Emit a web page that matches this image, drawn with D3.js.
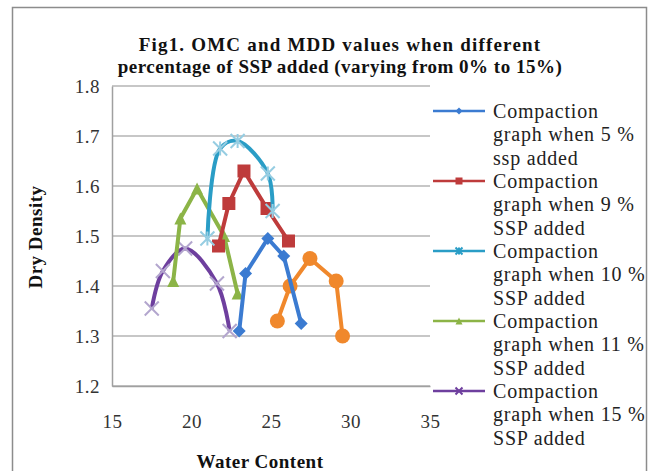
<!DOCTYPE html>
<html>
<head>
<meta charset="utf-8">
<script src="https://cdn.jsdelivr.net/npm/d3@7"></script>
<style>
  body { margin: 0; background: #fff; }
  text { font-family: "Liberation Serif", "Times New Roman", serif; }
</style>
</head>
<body>
<div id="chart"></div>
<script>
// water content (x) and dry density (y) for each series
var wc5 = [23.0, 23.4, 24.8, 25.8, 26.9];
var dd5 = [1.31, 1.425, 1.495, 1.46, 1.325];
var wc9 = [21.7, 22.35, 23.3, 24.75, 26.1];
var dd9 = [1.48, 1.565, 1.63, 1.555, 1.49];
var wc10 = [21.0, 21.8, 22.9, 24.8, 25.1];
var dd10 = [1.495, 1.675, 1.69, 1.625, 1.55];
var wc11 = [18.85, 19.3, 20.35, 22.05, 22.9];
var dd11 = [1.41, 1.535, 1.595, 1.5, 1.385];
var wc15 = [17.5, 18.2, 19.6, 21.6, 22.4];
var dd15 = [1.355, 1.43, 1.475, 1.405, 1.31];
var wcX = [25.4, 26.2, 27.45, 29.1, 29.5];
var ddX = [1.33, 1.4, 1.455, 1.41, 1.30];

var x_ticks = [15, 20, 25, 30, 35];
var y_ticks = [1.2, 1.3, 1.4, 1.5, 1.6, 1.7, 1.8];

var title_lines = ["Fig1. OMC and MDD values when different",
  "percentage of SSP added (varying from 0% to 15%)"];
var legend_lines = [
  ["Compaction", "graph when 5 %", "ssp added"],
  ["Compaction", "graph when 9 %", "SSP added"],
  ["Compaction", "graph when 10 %", "SSP added"],
  ["Compaction", "graph when 11 %", "SSP added"],
  ["Compaction", "graph when 15 %", "SSP added"]
];

function pts(xs, ys) {
  return xs.map(function(v, i) { return {x: v, y: ys[i]}; });
}

// drawing order: orange first, blue last (on top)
var series = [
  {name: "x", data: pts(wcX, ddX), color: "#F0882C", mark: "circle", smooth: false},
  {name: "15", data: pts(wc15, dd15), color: "#6E3F9E", mcolor: "#B3A6CE", mark: "cross", smooth: true},
  {name: "11", data: pts(wc11, dd11), color: "#8CB447", mark: "triangle", smooth: false},
  {name: "9", data: pts(wc9, dd9), color: "#BE3B3B", mark: "square", smooth: false},
  {name: "10", data: pts(wc10, dd10), color: "#2A9DC6", mcolor: "#96CDE2", mark: "star", smooth: true},
  {name: "5", data: pts(wc5, dd5), color: "#3B7BD1", mark: "diamond", smooth: false}
];
var legend_order = ["5", "9", "10", "11", "15"];

var W = 651, H = 471;
var svg = d3.select("#chart").append("svg")
  .attr("width", W)
  .attr("height", H);

svg.append("rect")
  .attr("x", 12.5).attr("y", 7.5)
  .attr("width", 634).attr("height", 470)
  .attr("fill", "#fff")
  .attr("stroke", "#8c8c8c")
  .attr("stroke-width", 1.5);

var x_ax = d3.scaleLinear().domain([15, 35]).range([112, 430]);
var y_ax = d3.scaleLinear().domain([1.2, 1.8]).range([386, 86]);

// gridlines
svg.append("g").selectAll("line")
  .data(y_ticks)
  .enter().append("line")
    .attr("x1", x_ax(15)).attr("x2", x_ax(35))
    .attr("y1", function(d) { return y_ax(d); })
    .attr("y2", function(d) { return y_ax(d); })
    .attr("stroke", "#b4b4b4")
    .attr("stroke-width", 1.5);

var gy = svg.append("g")
  .attr("transform", "translate(" + x_ax(15) + ",0)")
  .call(d3.axisLeft(y_ax).tickValues(y_ticks).tickSize(0).tickPadding(12).tickFormat(d3.format(".1f")));
var gx = svg.append("g")
  .attr("transform", "translate(0," + y_ax(1.2) + ")")
  .call(d3.axisBottom(x_ax).tickValues(x_ticks).tickSize(0).tickPadding(29));
[gx, gy].forEach(function(g) {
  g.select(".domain").attr("stroke", "#a0a0a0").attr("stroke-width", 1.5);
  g.selectAll("text")
    .attr("font-family", "Liberation Serif, serif")
    .attr("font-size", 19)
    .attr("letter-spacing", 0.5)
    .attr("fill", "#333");
});

function marker(g, type, color, size) {
  var s = size / 2;
  if (type == "circle") {
    g.append("circle").attr("r", s).attr("fill", color);
  } else if (type == "square") {
    g.append("rect").attr("x", -s).attr("y", -s).attr("width", size).attr("height", size).attr("fill", color);
  } else if (type == "diamond") {
    g.append("path").attr("d", "M0," + (-s) + "L" + s + ",0L0," + s + "L" + (-s) + ",0Z").attr("fill", color);
  } else if (type == "triangle") {
    g.append("path").attr("d", "M0," + (-s) + "L" + s + "," + s + "L" + (-s) + "," + s + "Z").attr("fill", color);
  } else {
    g.append("path")
      .attr("d", "M" + (-s) + "," + (-s) + "L" + s + "," + s + "M" + s + "," + (-s) + "L" + (-s) + "," + s +
        (type == "star" ? "M0," + (-s) + "L0," + s : ""))
      .attr("stroke", color).attr("stroke-width", 2).attr("fill", "none");
  }
}

var sizes = {circle: 15, square: 13, diamond: 13, triangle: 12, cross: 14, star: 14};

series.forEach(function(s) {
  var line = d3.line()
    .x(function(d) { return x_ax(d.x); })
    .y(function(d) { return y_ax(d.y); })
    .curve(s.smooth ? d3.curveCatmullRom : d3.curveLinear);
  var g = svg.append("g");
  g.append("path")
    .attr("d", line(s.data))
    .attr("fill", "none")
    .attr("stroke", s.color)
    .attr("stroke-width", 4)
    .attr("stroke-linejoin", "round");
  g.selectAll(".mk")
    .data(s.data)
    .enter().append("g")
      .attr("class", "mk")
      .attr("transform", function(d) { return "translate(" + x_ax(d.x) + "," + y_ax(d.y) + ")"; })
      .each(function() { marker(d3.select(this), s.mark, s.mcolor || s.color, sizes[s.mark]); });
});

// legend
var leg = svg.append("g");
legend_order.forEach(function(name, i) {
  var s = series.filter(function(d) { return d.name == name; })[0];
  var y0 = 111 + i * 70;
  leg.append("line")
    .attr("x1", 433).attr("x2", 485)
    .attr("y1", y0).attr("y2", y0)
    .attr("stroke", s.color).attr("stroke-width", 2.5);
  var m = leg.append("g").attr("transform", "translate(459," + y0 + ")");
  marker(m, s.mark, s.color, 7);
  legend_lines[i].forEach(function(t, j) {
    leg.append("text")
      .attr("x", 493)
      .attr("y", y0 + j * 23.4)
      .attr("dy", "0.35em")
      .attr("font-size", 20)
      .attr("letter-spacing", 0.8)
      .attr("fill", "#222")
      .text(t);
  });
});

// titles
svg.append("g").selectAll("text")
  .data(title_lines)
  .enter().append("text")
    .attr("x", 340)
    .attr("y", function(d, i) { return 44 + i * 22; })
    .attr("dy", "0.35em")
    .attr("text-anchor", "middle")
    .attr("font-size", 19)
    .attr("font-weight", "bold")
    .attr("letter-spacing", function(d, i) { return i == 0 ? 1.2 : 0.5; })
    .attr("fill", "#111")
    .text(function(d) { return d; });

svg.append("text")
  .attr("transform", "translate(35,237) rotate(-90)")
  .attr("text-anchor", "middle")
  .attr("dy", "0.35em")
  .attr("font-size", 19)
  .attr("font-weight", "bold")
  .attr("letter-spacing", 0.5)
  .attr("fill", "#111")
  .text("Dry Density");

svg.append("text")
  .attr("x", 260)
  .attr("y", 461)
  .attr("text-anchor", "middle")
  .attr("dy", "0.35em")
  .attr("font-size", 19)
  .attr("font-weight", "bold")
  .attr("letter-spacing", 0.5)
  .attr("fill", "#111")
  .text("Water Content");
</script>
</body>
</html>
